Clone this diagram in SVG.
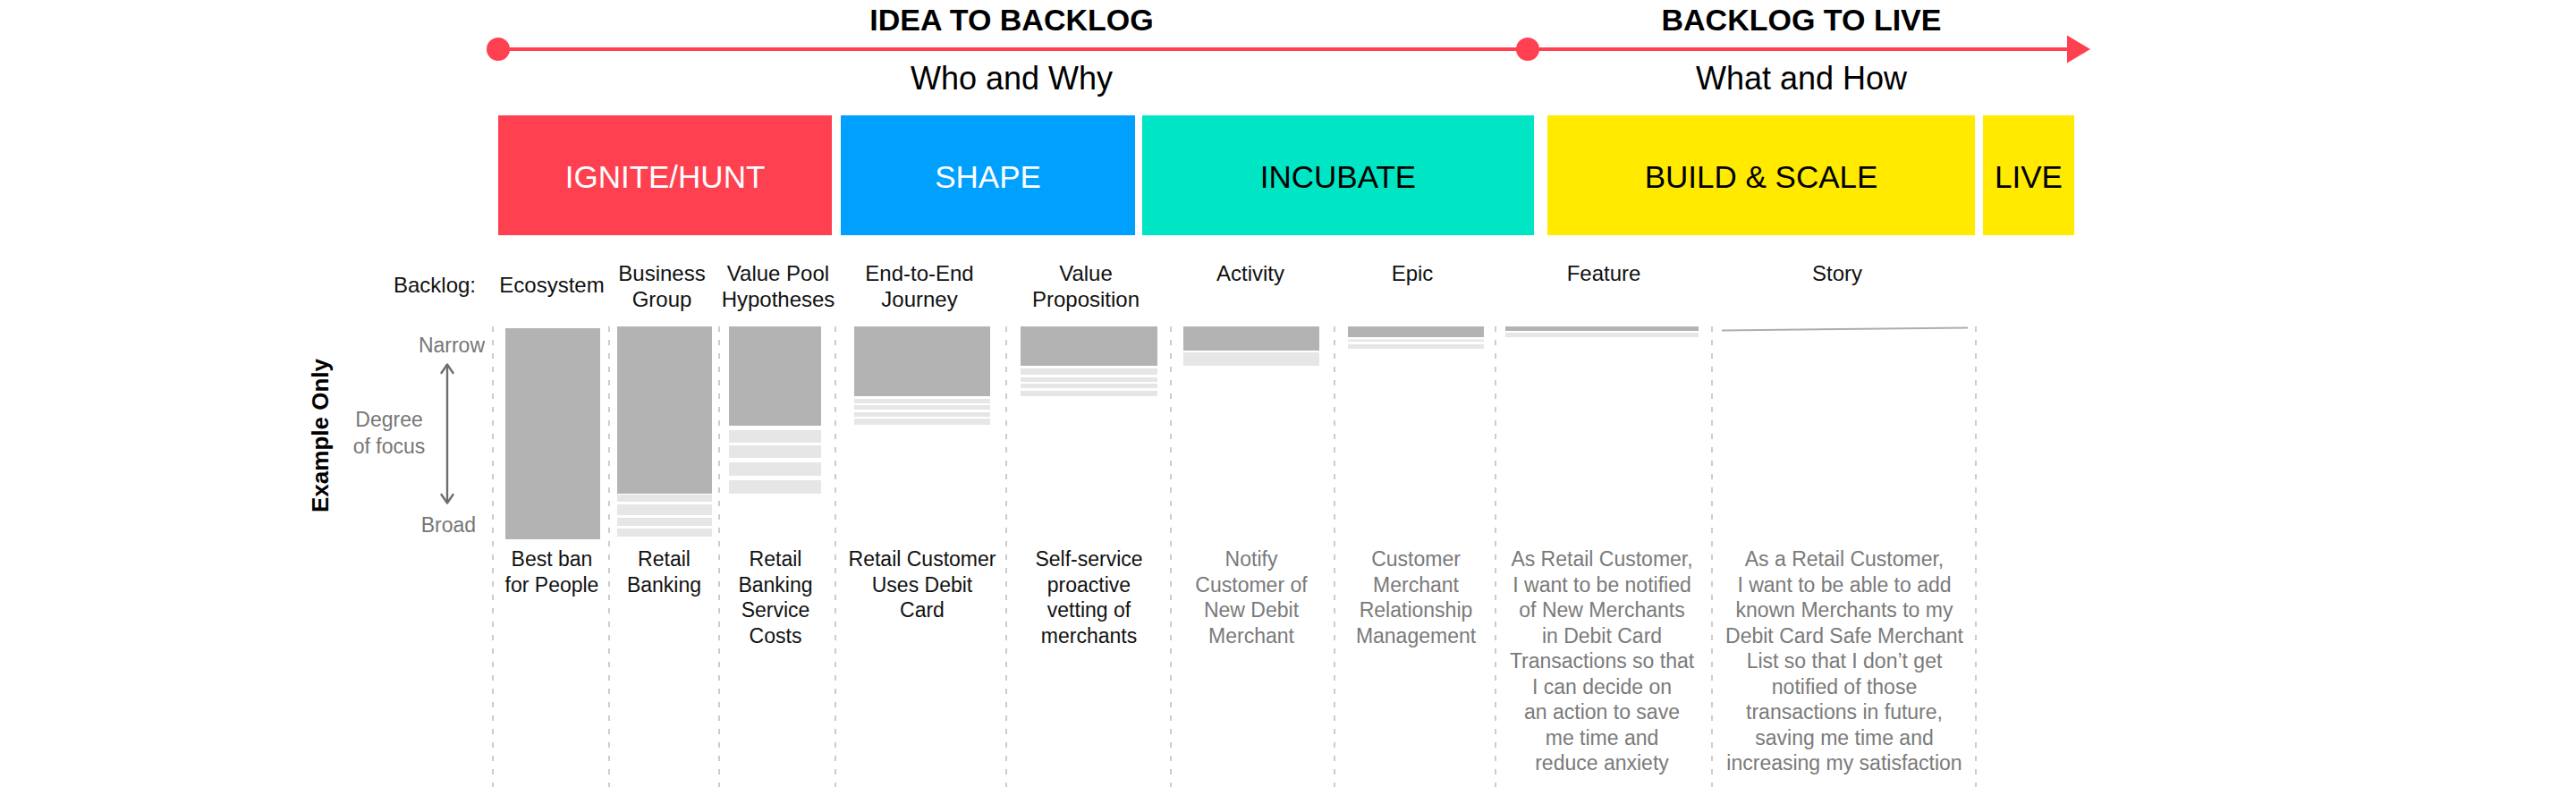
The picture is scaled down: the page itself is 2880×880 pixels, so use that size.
<svg xmlns="http://www.w3.org/2000/svg" width="2880" height="880" viewBox="0 0 2880 880">
<defs>
<style>
text{font-family:"Liberation Sans",Arial,sans-serif;}
.title{font-size:34px;font-weight:bold;fill:#000;text-anchor:middle;}
.sub{font-size:36px;fill:#000;text-anchor:middle;}
.phase{font-size:35px;text-anchor:middle;}
.hdr{font-size:24px;fill:#111;text-anchor:middle;}
.lbl{font-size:23px;fill:#111;text-anchor:middle;}
.glbl{font-size:23px;fill:#7a7a7a;text-anchor:middle;}
.side{font-size:23px;fill:#777;}
.dark{fill:#b3b3b3;}
.light{fill:#e6e6e6;}
.div{stroke:#c0c0c0;stroke-width:1.6;stroke-dasharray:6 9;fill:none;}
.chev{fill:none;stroke:#6e6e6e;stroke-width:2.4;stroke-linecap:round;stroke-linejoin:round;}
</style>
</defs>
<rect width="2880" height="880" fill="#fff"/>

<g id="connectors">
<line x1="557" y1="55" x2="2314" y2="55" stroke="#ff4050" stroke-width="4"/>
<polygon points="2311,39.5 2337,55 2311,70.5" fill="#ff4050"/>
<line x1="500" y1="408" x2="500" y2="562" stroke="#6e6e6e" stroke-width="2.4"/>
<polyline class="chev" points="493.5,417 500,407.5 506.5,417"/>
<polyline class="chev" points="493.5,553 500,562.5 506.5,553"/>
</g>

<g id="timeline">
<circle cx="557" cy="55" r="13" fill="#ff4050"/>
<circle cx="1708" cy="55" r="13" fill="#ff4050"/>
<text class="title" x="1131" y="34">IDEA TO BACKLOG</text>
<text class="title" x="2014" y="34">BACKLOG TO LIVE</text>
<text class="sub" x="1131" y="100">Who and Why</text>
<text class="sub" x="2014" y="100">What and How</text>
</g>

<g id="phase-ignite"><rect x="557" y="129" width="373" height="134" fill="#ff4050"/><text class="phase" x="743.5" y="210" fill="#fff">IGNITE/HUNT</text></g>
<g id="phase-shape"><rect x="940" y="129" width="329" height="134" fill="#00a0ff"/><text class="phase" x="1104.5" y="210" fill="#fff">SHAPE</text></g>
<g id="phase-incubate"><rect x="1277" y="129" width="438" height="134" fill="#00e5c4"/><text class="phase" x="1496" y="210" fill="#000">INCUBATE</text></g>
<g id="phase-build"><rect x="1730" y="129" width="478" height="134" fill="#ffea00"/><text class="phase" x="1969" y="210" fill="#000">BUILD &amp; SCALE</text></g>
<g id="phase-live"><rect x="2217" y="129" width="102" height="134" fill="#ffea00"/><text class="phase" x="2268" y="210" fill="#000">LIVE</text></g>

<g id="axis">
<text x="367" y="487" transform="rotate(-90 367 487)" style="font-size:26px;font-weight:bold;fill:#000;text-anchor:middle;">Example Only</text>
<text class="hdr" x="486" y="327">Backlog:</text>
<text class="side" x="542" y="394" text-anchor="end">Narrow</text>
<text class="side" x="435" y="477" text-anchor="middle">Degree</text>
<text class="side" x="435" y="507" text-anchor="middle">of focus</text>
<text class="side" x="532" y="595" text-anchor="end">Broad</text>
</g>

<g id="dividers">
<line class="div" x1="551" y1="365" x2="551" y2="880"/>
<line class="div" x1="681" y1="365" x2="681" y2="880"/>
<line class="div" x1="804" y1="365" x2="804" y2="880"/>
<line class="div" x1="934" y1="365" x2="934" y2="880"/>
<line class="div" x1="1125" y1="365" x2="1125" y2="880"/>
<line class="div" x1="1309" y1="365" x2="1309" y2="880"/>
<line class="div" x1="1492" y1="365" x2="1492" y2="880"/>
<line class="div" x1="1672" y1="365" x2="1672" y2="880"/>
<line class="div" x1="1914" y1="365" x2="1914" y2="880"/>
<line class="div" x1="2209" y1="365" x2="2209" y2="880"/>
</g>

<g id="col-ecosystem">
<text class="hdr" x="617" y="327">Ecosystem</text>
<rect class="dark" x="565" y="367" width="106" height="236"/>
<text class="lbl" x="617"><tspan x="617" y="633">Best ban</tspan><tspan x="617" y="661.5">for People</tspan></text>
</g>

<g id="col-business-group">
<text class="hdr" x="740"><tspan x="740" y="313.5">Business</tspan><tspan x="740" y="342.5">Group</tspan></text>
<rect class="dark" x="690" y="365" width="106" height="187"/>
<rect class="light" x="690" y="553" width="106" height="8"/>
<rect class="light" x="690" y="564" width="106" height="12"/>
<rect class="light" x="690" y="579" width="106" height="9"/>
<rect class="light" x="690" y="591" width="106" height="9"/>
<text class="lbl" x="742.5"><tspan x="742.5" y="633">Retail</tspan><tspan x="742.5" y="661.5">Banking</tspan></text>
</g>

<g id="col-value-pool">
<text class="hdr" x="870"><tspan x="870" y="313.5">Value Pool</tspan><tspan x="870" y="342.5">Hypotheses</tspan></text>
<rect class="dark" x="815" y="365" width="103" height="111"/>
<rect class="light" x="815" y="481" width="103" height="14"/>
<rect class="light" x="815" y="498" width="103" height="14"/>
<rect class="light" x="815" y="517" width="103" height="15"/>
<rect class="light" x="815" y="537" width="103" height="15"/>
<text class="lbl" x="867"><tspan x="867" y="633">Retail</tspan><tspan x="867" y="661.5">Banking</tspan><tspan x="867" y="690">Service</tspan><tspan x="867" y="718.5">Costs</tspan></text>
</g>

<g id="col-journey">
<text class="hdr" x="1028"><tspan x="1028" y="313.5">End-to-End</tspan><tspan x="1028" y="342.5">Journey</tspan></text>
<rect class="dark" x="955" y="365" width="152" height="78"/>
<rect class="light" x="955" y="446" width="152" height="5"/>
<rect class="light" x="955" y="453" width="152" height="5"/>
<rect class="light" x="955" y="461" width="152" height="5"/>
<rect class="light" x="955" y="468" width="152" height="7"/>
<text class="lbl" x="1031"><tspan x="1031" y="633">Retail Customer</tspan><tspan x="1031" y="661.5">Uses Debit</tspan><tspan x="1031" y="690">Card</tspan></text>
</g>

<g id="col-value-proposition">
<text class="hdr" x="1214"><tspan x="1214" y="313.5">Value</tspan><tspan x="1214" y="342.5">Proposition</tspan></text>
<rect class="dark" x="1141" y="365" width="153" height="44"/>
<rect class="light" x="1141" y="412" width="153" height="7"/>
<rect class="light" x="1141" y="422" width="153" height="5"/>
<rect class="light" x="1141" y="429" width="153" height="5"/>
<rect class="light" x="1141" y="437" width="153" height="6"/>
<text class="lbl" x="1217.5"><tspan x="1217.5" y="633">Self-service</tspan><tspan x="1217.5" y="661.5">proactive</tspan><tspan x="1217.5" y="690">vetting of</tspan><tspan x="1217.5" y="718.5">merchants</tspan></text>
</g>

<g id="col-activity">
<text class="hdr" x="1398" y="313.5">Activity</text>
<rect class="dark" x="1323" y="365" width="152" height="27"/>
<rect class="light" x="1323" y="394" width="152" height="15"/>
<text class="glbl" x="1399"><tspan x="1399" y="633">Notify</tspan><tspan x="1399" y="661.5">Customer of</tspan><tspan x="1399" y="690">New Debit</tspan><tspan x="1399" y="718.5">Merchant</tspan></text>
</g>

<g id="col-epic">
<text class="hdr" x="1579" y="313.5">Epic</text>
<rect class="dark" x="1507" y="365" width="152" height="12"/>
<rect class="light" x="1507" y="379.5" width="152" height="2.5"/>
<rect class="light" x="1507" y="385" width="152" height="5"/>
<text class="glbl" x="1583"><tspan x="1583" y="633">Customer</tspan><tspan x="1583" y="661.5">Merchant</tspan><tspan x="1583" y="690">Relationship</tspan><tspan x="1583" y="718.5">Management</tspan></text>
</g>

<g id="col-feature">
<text class="hdr" x="1793" y="313.5">Feature</text>
<rect class="dark" x="1683" y="365" width="216" height="5"/>
<rect class="light" x="1683" y="372" width="216" height="5"/>
<text class="glbl" x="1791"><tspan x="1791" y="633">As Retail Customer,</tspan><tspan x="1791" y="661.5">I want to be notified</tspan><tspan x="1791" y="690">of New Merchants</tspan><tspan x="1791" y="718.5">in Debit Card</tspan><tspan x="1791" y="747">Transactions so that</tspan><tspan x="1791" y="775.5">I can decide on</tspan><tspan x="1791" y="804">an action to save</tspan><tspan x="1791" y="832.5">me time and</tspan><tspan x="1791" y="861">reduce anxiety</tspan></text>
</g>

<g id="col-story">
<text class="hdr" x="2054" y="313.5">Story</text>
<polygon points="1925,368.5 2200,365.5 2200,367.5 1925,370.5" fill="#adadad"/>
<text class="glbl" x="2062"><tspan x="2062" y="633">As a Retail Customer,</tspan><tspan x="2062" y="661.5">I want to be able to add</tspan><tspan x="2062" y="690">known Merchants to my</tspan><tspan x="2062" y="718.5">Debit Card Safe Merchant</tspan><tspan x="2062" y="747">List so that I don’t get</tspan><tspan x="2062" y="775.5">notified of those</tspan><tspan x="2062" y="804">transactions in future,</tspan><tspan x="2062" y="832.5">saving me time and</tspan><tspan x="2062" y="861">increasing my satisfaction</tspan></text>
</g>
</svg>
